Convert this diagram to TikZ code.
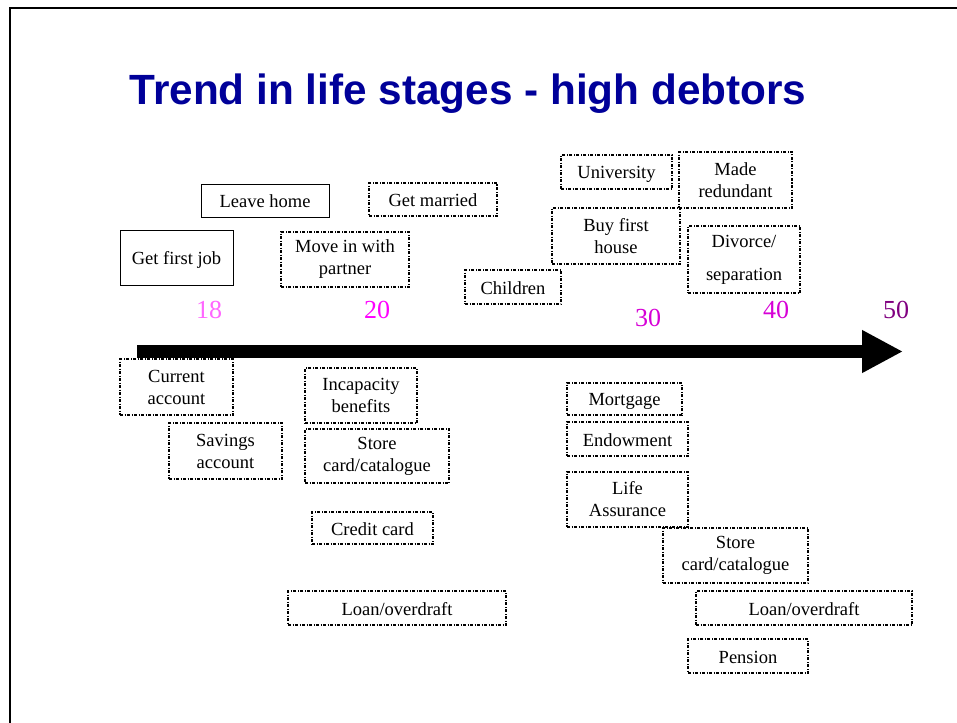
\documentclass[tikz,border=0pt]{standalone}
\usepackage{fontspec}
\setmainfont{Liberation Serif}
\newfontfamily\titulofont{Liberation Sans}
\usepackage{tikz}
\usetikzlibrary{arrows.meta}
\definecolor{azultitulo}{RGB}{0,0,153}
\definecolor{rosaclaro}{RGB}{255,102,255}
\definecolor{magenta1}{RGB}{255,0,255}
\definecolor{magenta2}{RGB}{214,0,214}
\definecolor{morado}{RGB}{128,0,128}

\begin{document}
\begin{tikzpicture}[x=1pt, y=-1pt,
  etapa/.style={rectangle, draw=black, line width=1pt, inner sep=0pt,
    align=center, font=\fontsize{18.5}{22}\selectfont},
  unalinea/.style={execute at begin node={\rule{0pt}{17.5pt}},
    execute at end node={\rule[-3.5pt]{0pt}{3.5pt}}},
  etapapunt/.style={etapa, line width=1.6pt,
    dash pattern=on 3pt off 1.5pt on 1pt off 1.5pt},
  edad/.style={font=\fontsize{26}{28}\selectfont},
  eje/.style={line width=13pt, -{Triangle[length=41pt, width=40pt]}}
]
\useasboundingbox (0,0) rectangle (957,722);
% marco de la diapositiva
\draw[line width=2pt] (9.5,730) -- (9.5,7.7) -- (965,7.7);
\node[font=\titulofont\bfseries\fontsize{42.3}{44}\selectfont, color=azultitulo,
  anchor=base] (titulo) at (468,105) {Trend in life stages - high debtors};

% eje de edades
\coordinate (ejeini) at (137,351.5);
\coordinate (ejefin) at (903,351.5);
\draw[eje] (ejeini) -- (ejefin);
\node[edad, color=rosaclaro] (e18) at (209,310) {18};
\node[edad, color=magenta1] (e20) at (377,310) {20};
\node[edad, color=magenta2] (e30) at (648,318) {30};
\node[edad, color=magenta2] (e40) at (776,310) {40};
\node[edad, color=morado] (e50) at (896,310) {50};

% etapas de vida (arriba)
\node[etapa, unalinea, minimum width=113pt, minimum height=55pt] (trabajo) at (176.5,257.5) {Get first job};
\node[etapa, unalinea, minimum width=128pt, minimum height=33pt] (casa) at (265,200.5) {Leave home};
\node[etapapunt, minimum width=128pt, minimum height=55pt] (pareja) at (345,259.5) {Move in with\\partner};
\node[etapapunt, unalinea, minimum width=128pt, minimum height=33pt] (boda) at (433,199.5) {Get married};
\node[etapapunt, unalinea, minimum width=96pt, minimum height=34pt] (hijos) at (513,287) {Children};
\node[etapapunt, unalinea, minimum width=111pt, minimum height=34pt] (universidad) at (616.5,172) {University};
\node[etapapunt, minimum width=128pt, minimum height=56pt] (vivienda) at (616,236) {Buy first\\house};
\node[etapapunt, minimum width=113pt, minimum height=56pt] (despido) at (735.5,180) {Made\\redundant};
\node[etapapunt, minimum width=112pt, minimum height=67pt] (divorcio) at (744,259.5) {Divorce/\\[11pt]separation};

% productos financieros (abajo)
\node[etapapunt, minimum width=113pt, minimum height=56pt] (cuenta) at (176.5,387) {Current\\account};
\node[etapapunt, minimum width=113pt, minimum height=56pt] (ahorro) at (225.5,451) {Savings\\account};
\node[etapapunt, minimum width=112pt, minimum height=55pt] (incapacidad) at (361,395.5) {Incapacity\\benefits};
\node[etapapunt, minimum width=144pt, minimum height=54pt] (tienda1) at (377,456) {Store\\card/catalogue};
\node[etapapunt, unalinea, minimum width=121pt, minimum height=32pt] (credito) at (372.5,528) {Credit card};
\node[etapapunt, unalinea, minimum width=218pt, minimum height=34pt] (prestamo1) at (397,608) {Loan/overdraft};
\node[etapapunt, unalinea, minimum width=115pt, minimum height=32pt] (hipoteca) at (624.5,399) {Mortgage};
\node[etapapunt, unalinea, minimum width=121pt, minimum height=34pt] (dotal) at (627.5,439) {Endowment};
\node[etapapunt, minimum width=121pt, minimum height=55pt] (seguro) at (627.5,499.5) {Life\\Assurance};
\node[etapapunt, minimum width=145pt, minimum height=55pt] (tienda2) at (735.5,555.5) {Store\\card/catalogue};
\node[etapapunt, unalinea, minimum width=216pt, minimum height=34pt] (prestamo2) at (804,608) {Loan/overdraft};
\node[etapapunt, unalinea, minimum width=120pt, minimum height=34pt] (pension) at (748,656) {Pension};
\end{tikzpicture}
\end{document}
